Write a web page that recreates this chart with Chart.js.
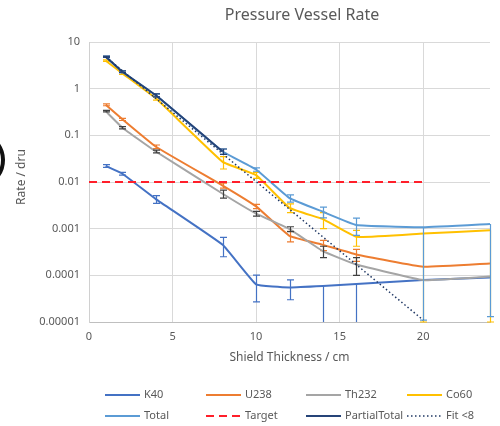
<!DOCTYPE html>
<html>
<head>
<meta charset="utf-8">
<script src="https://cdn.jsdelivr.net/npm/chart.js@4.4.0/dist/chart.umd.min.js"></script>
<style>
  html, body { margin: 0; padding: 0; background: #fff; }
</style>
</head>
<body>
<canvas id="rateChart" width="500" height="426"></canvas>
<script>
// Data ------------------------------------------------------------

const thickness = [1, 2, 4, 8, 10, 12, 14, 16, 20, 24];

const k40   = [0.022, 0.015, 0.0043, 0.00045, 0.000064, 0.000055, 0.000059, 0.000065, 0.000079, 0.00009];
const u238  = [0.45, 0.22, 0.057, 0.0084, 0.003, 0.0007, 0.00045, 0.00028, 0.000153, 0.00018];
const th232 = [0.33, 0.146, 0.045, 0.0056, 0.0021, 0.00098, 0.00033, 0.00017, 0.000079, 0.000094];
const co60  = [3.98, 2.13, 0.62, 0.027, 0.014, 0.0028, 0.0016, 0.00067, 0.00079, 0.00092];
const total = [4.85, 2.3, 0.72, 0.045, 0.0185, 0.0045, 0.0023, 0.0012, 0.00107, 0.00126];

const partialX = [1, 2, 4, 8];
const partialTotal = [4.85, 2.3, 0.72, 0.045];

const targetX = [0, 20];
const target = [0.01, 0.01];

const fitX = [1, 20];
const fit = [4.8, 0.000011];

// error bars as [minus, plus]
const k40Err   = [[0.0015, 0.0015], [0.001, 0.001], [0.0008, 0.0008], [0.0002, 0.0002], [0.000037, 0.000037],
                  [0.000025, 0.000025], [0.000059, 0], [0.000065, 0], [0, 0], [0, 0]];
const u238Err  = [[0.02, 0.02], [0.012, 0.012], [0.005, 0.005], [0.001, 0.001], [0.0003, 0.0003],
                  [0.00018, 0.00018], [0.00011, 0.00011], [0.00008, 0.00008], [0, 0], [0, 0]];
const th232Err = [[0.012, 0.012], [0.008, 0.008], [0.003, 0.003], [0.0011, 0.0011], [0.00025, 0.00025],
                  [0.00012, 0.00012], [0.00009, 0.00009], [0.00007, 0.00007], [0, 0], [0, 0]];
const co60Err  = [[0.15, 0.15], [0.12, 0.12], [0.05, 0.05], [0.008, 0.008], [0.002, 0.002],
                  [0.0006, 0.0006], [0.0006, 0.0006], [0.00025, 0.00025], [0.00078, 0], [0.00091, 0]];
const totalErr = [[0.15, 0.15], [0.1, 0.1], [0.05, 0.05], [0.006, 0.006], [0.0015, 0.0015],
                  [0.0008, 0.0008], [0.0006, 0.0006], [0.00048, 0.00048], [0.001059, 0], [0.001247, 0]];
const partialErr = [[0.15, 0.15], [0.1, 0.1], [0.05, 0.05], [0.006, 0.006]];

const xTicks = [0, 5, 10, 15, 20];
const yTicks = [0.00001, 0.0001, 0.001, 0.01, 0.1, 1, 10];
const yTickLabels = ['0.00001', '0.0001', '0.001', '0.01', '0.1', '1', '10'];

// helpers ---------------------------------------------------------

function points(xs, ys) {
  return xs.map((x, i) => ({ x: x, y: ys[i] }));
}

function series(label, xs, ys, color, errs, extra) {
  return Object.assign({
    label: label,
    data: points(xs, ys),
    borderColor: color,
    backgroundColor: color,
    borderWidth: 2,
    pointRadius: 0,
    tension: 0.1,
    fill: false,
    errors: errs
  }, extra || {});
}

// plugins ---------------------------------------------------------

const errorBars = {
  id: 'errorBars',
  afterDatasetDraw(chart, args) {
    const ds = chart.data.datasets[args.index];
    if (!ds.errors) return;
    const { ctx, chartArea } = chart;
    const xs = chart.scales.x, ys = chart.scales.y;
    const cap = 3.5;
    ctx.save();
    ctx.strokeStyle = ds.errorColor || ds.borderColor;
    ctx.lineWidth = 1.2;
    ds.data.forEach((p, i) => {
      const minus = ds.errors[i][0], plus = ds.errors[i][1];
      if (!minus && !plus) return;
      // snap to the pixel so stacked bars cover each other cleanly
      const px = Math.round(xs.getPixelForValue(p.x)) + 0.5;
      const lo = p.y - minus, hi = p.y + plus;
      let yLo = chartArea.bottom;
      if (lo > 0) yLo = Math.min(ys.getPixelForValue(lo), chartArea.bottom);
      const yHi = ys.getPixelForValue(hi);
      ctx.beginPath();
      ctx.moveTo(px, yLo);
      ctx.lineTo(px, yHi);
      if (lo > 0 && yLo < chartArea.bottom) {
        ctx.moveTo(px - cap, yLo);
        ctx.lineTo(px + cap, yLo);
      }
      if (plus > 0) {
        ctx.moveTo(px - cap, yHi);
        ctx.lineTo(px + cap, yHi);
      }
      ctx.stroke();
    });
    ctx.restore();
  }
};

const legendCols = [105, 206, 306, 407];
const legendRows = [395, 416];

const extras = {
  id: 'extras',
  afterDraw(chart) {
    const ctx = chart.ctx;
    ctx.save();

    // title
    ctx.fillStyle = '#595959';
    ctx.font = '16px "Noto Sans", "Open Sans", sans-serif';
    ctx.textAlign = 'center';
    ctx.textBaseline = 'middle';
    ctx.fillText('Pressure Vessel Rate', 302, 15);

    // y axis title, a bit above the middle like the original
    ctx.save();
    ctx.font = '12px "Noto Sans", "Open Sans", sans-serif';
    ctx.translate(22, 177);
    ctx.rotate(-Math.PI / 2);
    ctx.fillText('Rate / dru', 0, 0);
    ctx.restore();

    // legend, 4 columns
    ctx.font = '11px "Noto Sans", "Open Sans", sans-serif';
    ctx.textAlign = 'left';
    chart.data.datasets.forEach((ds, i) => {
      const x = legendCols[i % 4];
      const y = legendRows[Math.floor(i / 4)];
      ctx.strokeStyle = ds.borderColor;
      ctx.lineWidth = ds.borderWidth;
      ctx.setLineDash(ds.borderDash || []);
      ctx.beginPath();
      ctx.moveTo(x, y);
      ctx.lineTo(x + 35, y);
      ctx.stroke();
      ctx.fillText(ds.label, x + 39, y);
    });
    ctx.setLineDash([]);

    // bit of black shape cut at the left edge
    ctx.strokeStyle = '#111';
    ctx.lineWidth = 4;
    ctx.beginPath();
    ctx.arc(-24, 160, 27, -0.8, 0.8);
    ctx.stroke();

    ctx.restore();
  }
};

// chart -----------------------------------------------------------

Chart.defaults.font.family = '"Noto Sans", "Open Sans", sans-serif';
Chart.defaults.color = '#595959';

const datasets = [
  series('K40', thickness, k40, '#4472C4', k40Err, { order: 8 }),
  series('U238', thickness, u238, '#ED7D31', u238Err, { order: 7 }),
  series('Th232', thickness, th232, '#A5A5A5', th232Err, { order: 6, errorColor: '#404040' }),
  series('Co60', thickness, co60, '#FFC000', co60Err, { order: 5 }),
  series('Total', thickness, total, '#5B9BD5', totalErr, { order: 4 }),
  series('Target', targetX, target, '#FF1F2A', null, { order: 3, borderDash: [8, 5], tension: 0 }),
  series('PartialTotal', partialX, partialTotal, '#264478', partialErr, { order: 2 }),
  series('Fit <8', fitX, fit, '#203864', null, { order: 1, borderDash: [1.5, 2.5], borderWidth: 1.5, tension: 0 })
];

new Chart(document.getElementById('rateChart'), {
  type: 'line',
  data: { datasets: datasets },
  plugins: [errorBars, extras],
  options: {
    responsive: false,
    animation: false,
    devicePixelRatio: 1,
    layout: { padding: { left: 0, top: 42, right: 10, bottom: 56 } },
    plugins: {
      legend: { display: false },
      title: { display: false },
      tooltip: { enabled: false }
    },
    scales: {
      x: {
        type: 'linear',
        min: 0,
        max: 24,
        afterBuildTicks: (s) => { s.ticks = xTicks.map(v => ({ value: v })); },
        afterFit: (s) => { s.height = 48; },
        grid: { color: '#d9d9d9', drawTicks: false },
        border: { color: '#bfbfbf' },
        ticks: { padding: 8, font: { size: 11 } },
        title: { display: true, text: 'Shield Thickness / cm', font: { size: 12 }, padding: { top: 0, bottom: 5 } }
      },
      y: {
        type: 'logarithmic',
        min: 0.00001,
        max: 10,
        afterBuildTicks: (s) => { s.ticks = yTicks.map(v => ({ value: v })); },
        afterFit: (s) => { s.width = 89; },
        grid: { color: '#d9d9d9', drawTicks: false },
        border: { color: '#d0d0d0' },
        ticks: { padding: 9, font: { size: 11 }, callback: (v, i) => yTickLabels[i] },
        title: { display: false }
      }
    }
  }
});
</script>
</body>
</html>
